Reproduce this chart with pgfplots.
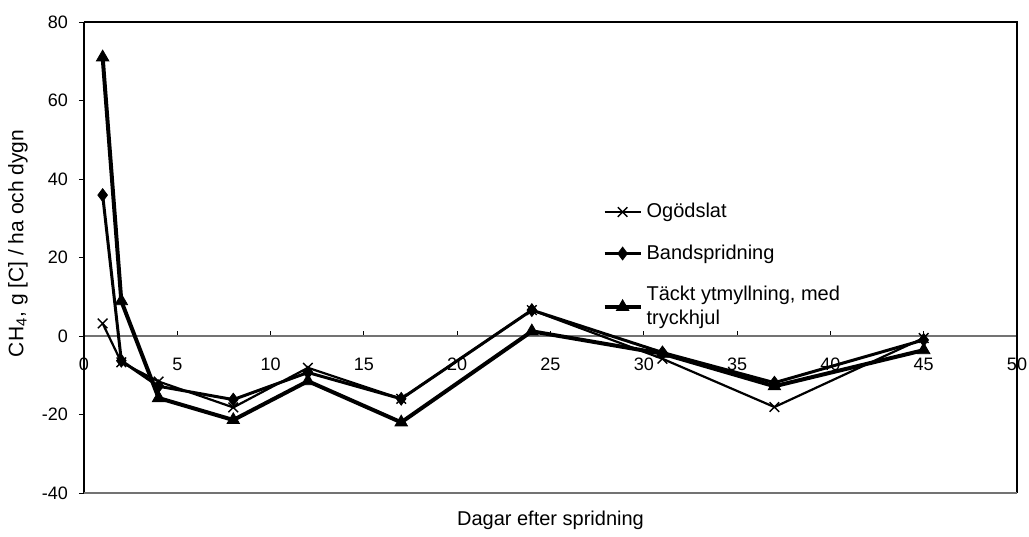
\documentclass[border=0pt]{standalone}
\usepackage{fontspec}
\setmainfont{Liberation Sans}
\usepackage{pgfplots}
\pgfplotsset{compat=1.18}
\begin{document}
\begin{tikzpicture}
\useasboundingbox (-42pt,-21.5pt) rectangle (472.5pt,246.5pt);
\begin{axis}[
  at={(0,0)}, anchor=south west,
  width=466.5pt, height=235.5pt, scale only axis,
  xmin=0, xmax=50, ymin=-40, ymax=80,
  axis x line=middle, axis y line=left,
  axis line style={-, black, line width=0.6pt},
  x axis line style={-, gray!90!black, line width=0.6pt},
  hide obscured x ticks=false, hide obscured y ticks=false,
  xtick={0,5,...,50}, ytick={-40,-20,...,80},
  xtick align=inside, ytick align=outside,
  major tick length=2.5pt,
  tick style={black, line width=0.5pt},
  /pgf/number format/assume math mode=true,
  tick label style={font=\fontsize{9}{10}\selectfont},
  xticklabel style={anchor=center, yshift=-14pt},
  yticklabel style={xshift=-2pt},
  xlabel={Dagar efter spridning},
  xlabel style={at={(rel axis cs:0.5,0)}, anchor=center, yshift=-13.5pt, font=\fontsize{10}{12}\selectfont},
  legend style={at={(rel axis cs:0.549,0.633)}, anchor=north west, draw=none, fill=none,
    font=\fontsize{10}{12}\selectfont, row sep=8pt, cells={align=left}},
  legend cell align=left,
  legend image code/.code={\draw[mark repeat=2,mark phase=2] plot coordinates {(0pt,0pt)(9pt,0pt)(18pt,0pt)};},
  clip=false,
]
\addplot[black, line width=1.1pt, mark=x, mark size=3.4pt, mark options={solid, line width=0.7pt}]
  coordinates {(1,3.2)(2,-6.7)(4,-11.6)(8,-18.2)(12,-8.1)(17,-16)(24,6.6)(31,-5.8)(37,-18.1)(45,-0.5)};
\addlegendentry{Ogödslat}
\addplot[black, line width=1.5pt, mark=diamond*, mark size=3.2pt, mark options={solid, line width=0.4pt}]
  coordinates {(1,35.9)(2,-6.3)(4,-12.8)(8,-16.2)(12,-9.3)(17,-16)(24,6.6)(31,-4.2)(37,-11.9)(45,-1)};
\addlegendentry{Bandspridning}
\addplot[black, line width=2pt, mark=triangle*, mark size=3.6pt, mark options={solid, line width=0.4pt}]
  coordinates {(1,71)(2,8.9)(4,-15.8)(8,-21.4)(12,-11.5)(17,-22)(24,1.2)(31,-4.5)(37,-12.8)(45,-3.6)};
\addlegendentry{Täckt ytmyllning, med\\tryckhjul}
\draw[black, line width=0.6pt] (rel axis cs:0,1) -- (rel axis cs:1,1) -- (rel axis cs:1,0);
\draw[gray!90!black, line width=0.6pt] (rel axis cs:0,0) -- (rel axis cs:1,0);
\path (rel axis cs:0,0.53) ++(-33pt,0pt) node[rotate=90, font=\fontsize{10.5}{12}\selectfont] {CH\textsubscript{4}, g [C] / ha och dygn};
\end{axis}
\end{tikzpicture}
\end{document}
